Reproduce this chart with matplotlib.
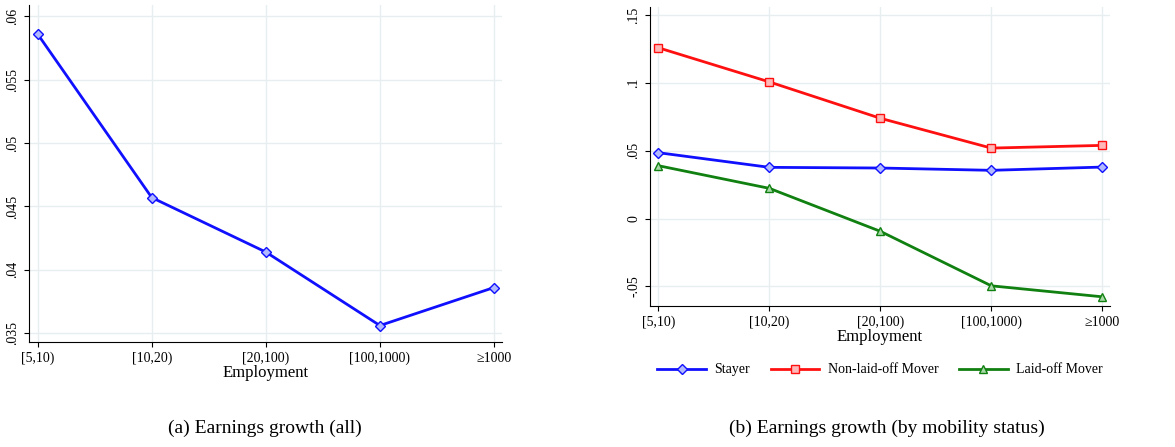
import matplotlib.pyplot as plt

plt.rcParams['font.family'] = ['Liberation Serif', 'DejaVu Serif']

cats = ['[5,10)', '[10,20)', '[20,100)', '[100,1000)', '\u22651000']
growth_all = [0.0586, 0.0457, 0.0414, 0.0356, 0.0386]
stayer = [0.0486, 0.0378, 0.0373, 0.0356, 0.0380]
nonlaid = [0.1260, 0.1008, 0.0740, 0.0520, 0.0540]
laidoff = [0.0390, 0.0223, -0.0094, -0.0496, -0.0577]

grid_c = '#e6eef0'
fig = plt.figure(figsize=(11.75, 4.47), dpi=100)

def style(ax):
    ax.grid(True, color=grid_c, lw=1)
    ax.set_axisbelow(True)
    for s in ['top', 'right']:
        ax.spines[s].set_visible(False)
    ax.set_xticks(range(len(cats)))
    ax.set_xticklabels(cats, fontsize=10)
    ax.tick_params(axis='y', labelsize=10, labelrotation=90)
    ax.set_xlim(-0.076, 4.07)
    ax.set_xlabel('Employment', fontsize=12, labelpad=0)
    for lab in ax.get_yticklabels():
        lab.set_va('center')

# (a)
ax1 = fig.add_axes([0.0247, 0.2349, 0.4025, 0.7539])
x = range(len(cats))
ax1.plot(x, growth_all, color='#1010ff', lw=2, marker='D', ms=5.5,
         mfc='#b0b8ff', mec='#1010ff', mew=1)
ax1.set_ylim(0.0343, 0.0609)
ax1.set_yticks([0.035, 0.04, 0.045, 0.05, 0.055, 0.06])
ax1.set_yticklabels(['.035', '.04', '.045', '.05', '.055', '.06'])
style(ax1)

# (b)
ax2 = fig.add_axes([0.5532, 0.3154, 0.3915, 0.6696])
ax2.plot(x, stayer, color='#1010ff', lw=2, marker='D', ms=5.5,
         mfc='#b0b8ff', mec='#1010ff', mew=1, label='Stayer')
ax2.plot(x, nonlaid, color='#ff1010', lw=2, marker='s', ms=5.5,
         mfc='#ffb8b8', mec='#ff1010', mew=1, label='Non-laid-off Mover')
ax2.plot(x, laidoff, color='#108010', lw=2, marker='^', ms=5.5,
         mfc='#a8d8a8', mec='#108010', mew=1, label='Laid-off Mover')
ax2.set_ylim(-0.0645, 0.1563)
ax2.set_yticks([-0.05, 0, 0.05, 0.1, 0.15])
ax2.set_yticklabels(['-.05', '0', '.05', '.1', '.15'])
style(ax2)
ax2.legend(loc='upper center', bbox_to_anchor=(0.5, -0.15), ncol=3,
           frameon=False, fontsize=10, handlelength=3.5, columnspacing=1.5,
           handletextpad=0.6)

fig.text(265 / 1175, 1 - 428 / 447, '(a) Earnings growth (all)', ha='center',
         va='center', fontsize=14)
fig.text(887 / 1175, 1 - 428 / 447, '(b) Earnings growth (by mobility status)',
         ha='center', va='center', fontsize=14)

fig.savefig('out.png', dpi=100)
